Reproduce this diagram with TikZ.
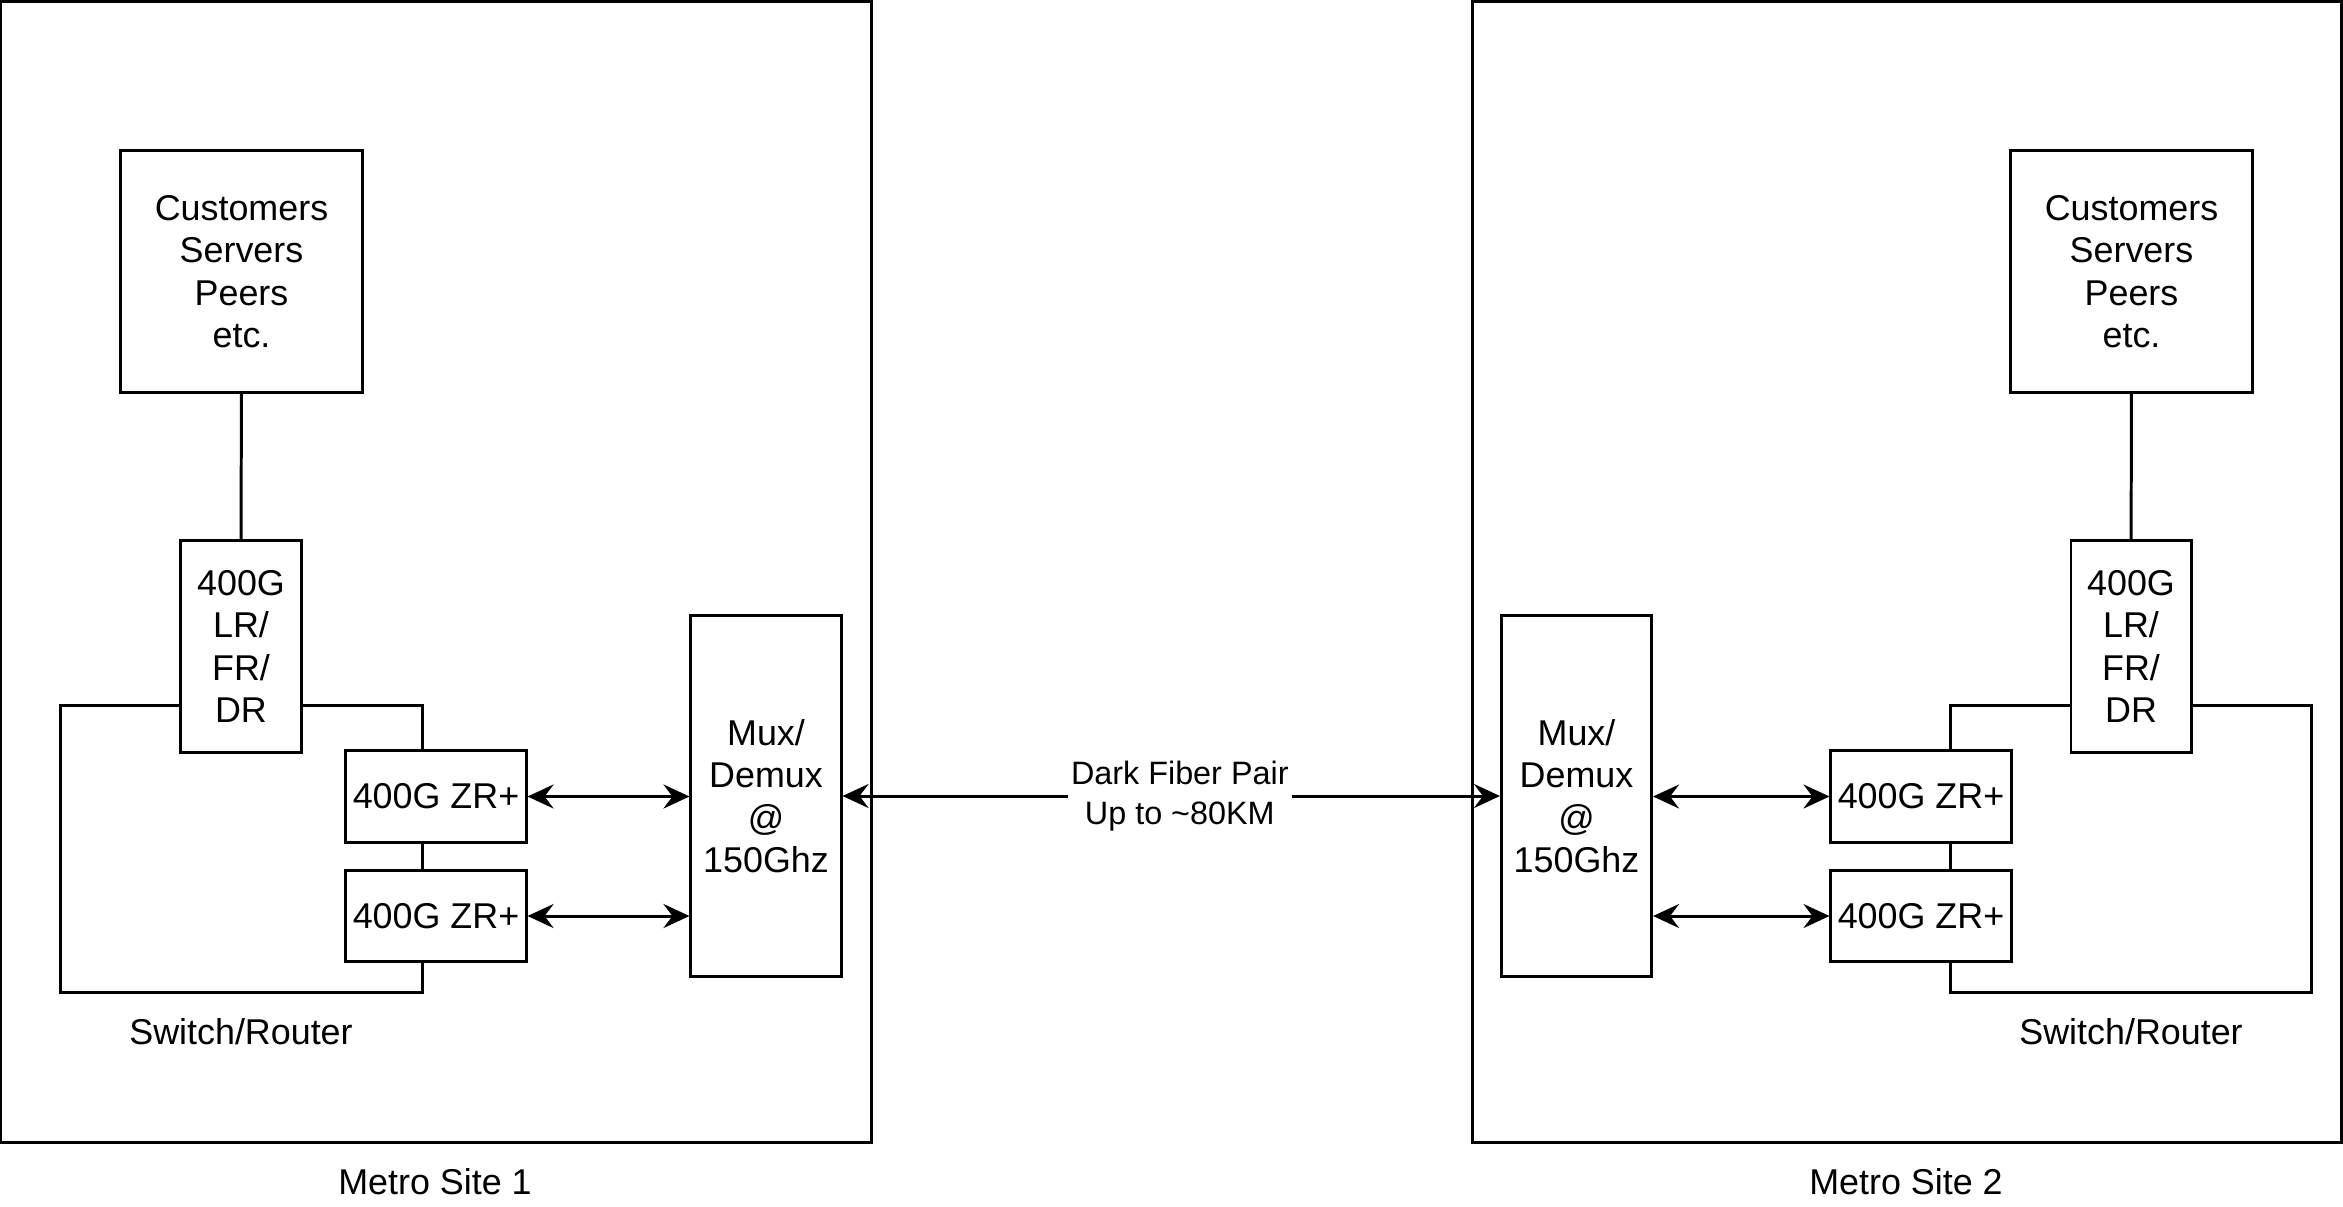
\documentclass[tikz,border=0pt]{standalone}
\usepackage{fontspec}
\setmainfont{Liberation Sans}
\usetikzlibrary{arrows.meta, positioning}

\begin{document}
\begin{tikzpicture}[x=0.01cm, y=-0.01cm,
		>={Stealth[length=2.6mm, width=2.4mm, inset=0.9mm]},   %Pfeilspitzen
		box/.style={draw, fill=white, line width=0.85pt, inner sep=0pt, align=center},
		site/.style={draw, line width=0.85pt, inner sep=0pt},
		lbl/.style={inner sep=0pt, align=center},
		font=\fontsize{10.2}{12.1}\selectfont]
		%Bildbereich
		\useasboundingbox (0,0) rectangle (2343,1206);
		% Standorte
		\node[site, minimum width=8.70cm, minimum height=11.40cm] (site1) at (436,572) {};
		\node[site, minimum width=8.69cm, minimum height=11.40cm] (site2) at (1907,572) {};
		\node[lbl] (site1lbl) at (435,1182) {Metro Site 1};
		\node[lbl] (site2lbl) at (1906,1182) {Metro Site 2};
		% Switch/Router Umrisse
		\node[site, minimum width=3.61cm, minimum height=2.86cm] (sw1) at (241.5,849) {};
		\node[site, minimum width=3.60cm, minimum height=2.86cm] (sw2) at (2131,849) {};
		\node[lbl] (sw1lbl) at (241,1032) {Switch/Router};
		\node[lbl] (sw2lbl) at (2131,1032) {Switch/Router};
		% Kunden
		\node[box, minimum width=2.41cm, minimum height=2.41cm] (cust1) at (241.5,271.5) {Customers\\Servers\\Peers\\etc.};
		\node[box, minimum width=2.41cm, minimum height=2.41cm] (cust2) at (2131.5,271.5) {Customers\\Servers\\Peers\\etc.};
		% Optiken
		\node[box, minimum width=1.20cm, minimum height=2.11cm] (lr1) at (241,646.5) {400G\\LR/\\FR/\\DR};
		\node[box, minimum width=1.20cm, minimum height=2.11cm] (lr2) at (2131,646.5) {400G\\LR/\\FR/\\DR};
		\node[box, minimum width=1.80cm, minimum height=0.91cm] (zr1a) at (436,796.5) {400G ZR+};
		\node[box, minimum width=1.80cm, minimum height=0.90cm] (zr1b) at (436,916) {400G ZR+};
		\node[box, minimum width=1.80cm, minimum height=0.91cm] (zr2a) at (1921,796.5) {400G ZR+};
		\node[box, minimum width=1.80cm, minimum height=0.90cm] (zr2b) at (1921,916) {400G ZR+};
		% Mux/Demux
		\node[box, minimum width=1.50cm, minimum height=3.60cm] (mux1) at (766,796) {Mux/\\Demux\\@\\150Ghz};
		\node[box, minimum width=1.50cm, minimum height=3.60cm] (mux2) at (1576.5,796) {Mux/\\Demux\\@\\150Ghz};
		% Verbindungen
		\draw[line width=0.85pt] (cust1) -- (lr1);
		\draw[line width=0.85pt] (cust2) -- (lr2);
		\foreach \z in {zr1a, zr1b} \draw[<->, line width=0.85pt] (\z.east) -- (\z.east -| mux1.west);
		\foreach \z in {zr2a, zr2b} \draw[<->, line width=0.85pt] (\z.west -| mux2.east) -- (\z.west);
		\draw[<->, line width=0.85pt] (mux1) -- (mux2)
			node[pos=0.513, fill=white, inner sep=1pt, align=center, font=\fontsize{9.2}{11.5}\selectfont] (fiber) {Dark Fiber Pair\\Up to \textasciitilde80KM};
\end{tikzpicture}
\end{document}
